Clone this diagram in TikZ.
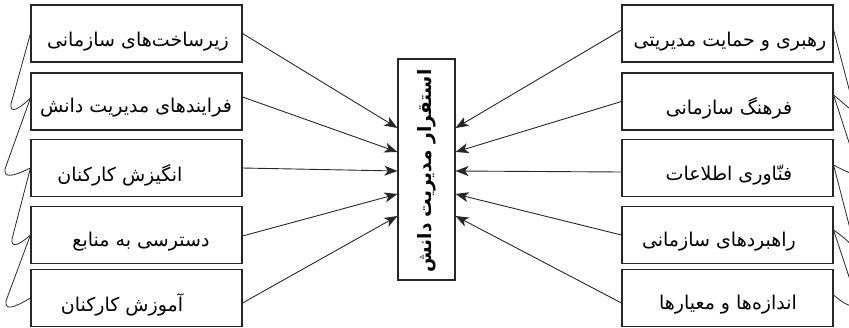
\documentclass[tikz,border=0pt]{standalone}
\usepackage{fontspec}
\newfontfamily\fa[Script=Arabic]{DejaVu Sans}
\TeXXeTstate=1
\usetikzlibrary{arrows.meta,calc}
\begin{document}
\begin{tikzpicture}[x=1pt,y=-1pt,
  box/.style={draw=black!85,line width=1.1pt,inner sep=0pt},
  sbox/.style={box,minimum width=211pt,minimum height=57pt},
  txt/.style={inner sep=0pt,font=\fa\fontsize{19}{22}\selectfont},
  ctxt/.style={inner sep=0pt,font=\fa\bfseries\fontsize{18.5}{22}\selectfont},
  arr/.style={draw=black!85,line width=0.9pt,-{Stealth[length=13pt,width=10pt,inset=3.5pt]}},
  zig/.style={draw=black!85,line width=0.8pt}]
\useasboundingbox (0,0) rectangle (849,327);
\clip (0,0) rectangle (849,327);
% left boxes
\node[sbox] (l1) at (136.5,33.5) {};
\node[sbox] (l2) at (136.5,101.5) {};
\node[sbox] (l3) at (136.5,168) {};
\node[sbox] (l4) at (136.5,235) {};
\node[sbox] (l5) at (136.5,298) {};
% right boxes
\node[sbox] (r1) at (727.5,33.5) {};
\node[sbox] (r2) at (727.5,101.5) {};
\node[sbox] (r3) at (727.5,168) {};
\node[sbox] (r4) at (727.5,235) {};
\node[sbox] (r5) at (727.5,298) {};
% centre box
\node[box,minimum width=57pt,minimum height=221pt] (c) at (426.5,169.5) {};
% texts
\node[txt] (tl1) at (138,42) {\beginR زیرساخت‌های سازمانی\endR};
\node[txt] (tl2) at (136,108) {\beginR فرایندهای مدیریت دانش\endR};
\node[txt] (tl3) at (120,175) {\beginR انگیزش کارکنان\endR};
\node[txt] (tl4) at (141,242) {\beginR دسترسی به منابع\endR};
\node[txt] (tl5) at (122,305) {\beginR آموزش کارکنان\endR};
\node[txt] (tr1) at (730,42) {\beginR رهبری و حمایت مدیریتی\endR};
\node[txt] (tr2) at (729,108) {\beginR فرهنگ سازمانی\endR};
\node[txt] (tr3) at (729,175) {\beginR فنّاوری اطلاعات\endR};
\node[txt] (tr4) at (719,242) {\beginR راهبردهای سازمانی\endR};
\node[txt] (tr5) at (728,305) {\beginR اندازه‌ها و معیارها\endR};
\node[ctxt,rotate=90] (ct) at (427,171) {\beginR استقرار مدیریت دانش\endR};
% arrows
\draw[arr] (l1.east) -- ([yshift=41.5pt]c.west);
\draw[arr] ([yshift=4.5pt]l2.east) -- ([yshift=17.5pt]c.west);
\draw[arr] (l3.east) -- ([yshift=-1.5pt]c.west);
\draw[arr] ([yshift=-1pt]l4.east) -- ([yshift=-24.5pt]c.west);
\draw[arr] ([yshift=-5pt]l5.east) -- ([yshift=-46.5pt]c.west);
\draw[arr] ([yshift=3.5pt]r1.west) -- ([yshift=41.5pt]c.east);
\draw[arr] (r2.west) -- ([yshift=17.5pt]c.east);
\draw[arr] ([yshift=-4pt]r3.west) -- ([yshift=-1.5pt]c.east);
\draw[arr] (r4.west) -- ([yshift=-24.5pt]c.east);
\draw[arr] ([yshift=-5pt]r5.west) -- ([yshift=-46.5pt]c.east);
% left zigzag
\draw[zig] (l1.west) -- (11,104) .. controls (10,113) and (17,111) .. ([yshift=3.5pt]l2.west);
\draw[zig] ([yshift=3.5pt]l2.west) -- (5,169) .. controls (4,178) and (12,177) .. (l3.west);
\draw[zig] (l3.west) -- (12,239) .. controls (11,248) and (18,246) .. (l4.west);
\draw[zig] (l4.west) -- (6,301) .. controls (5,310) and (12,309) .. (l5.west);
% right zigzag (cut by the picture edge)
\draw[zig] ([yshift=3.5pt]r1.east) -- (854,108) .. controls (856,116) and (852,110) .. ([yshift=6.5pt]r2.east);
\draw[zig] ([yshift=6.5pt]r2.east) -- (857,167) .. controls (859,177) and (852,175) .. ([yshift=3pt]r3.east);
\draw[zig] ([yshift=3pt]r3.east) -- (854,244) .. controls (855,251) and (850,241) .. ([yshift=5pt]r4.east);
\draw[zig] ([yshift=5pt]r4.east) -- (856,298) .. controls (858,308) and (851,310) .. ([yshift=3pt]r5.east);
\end{tikzpicture}
\end{document}
